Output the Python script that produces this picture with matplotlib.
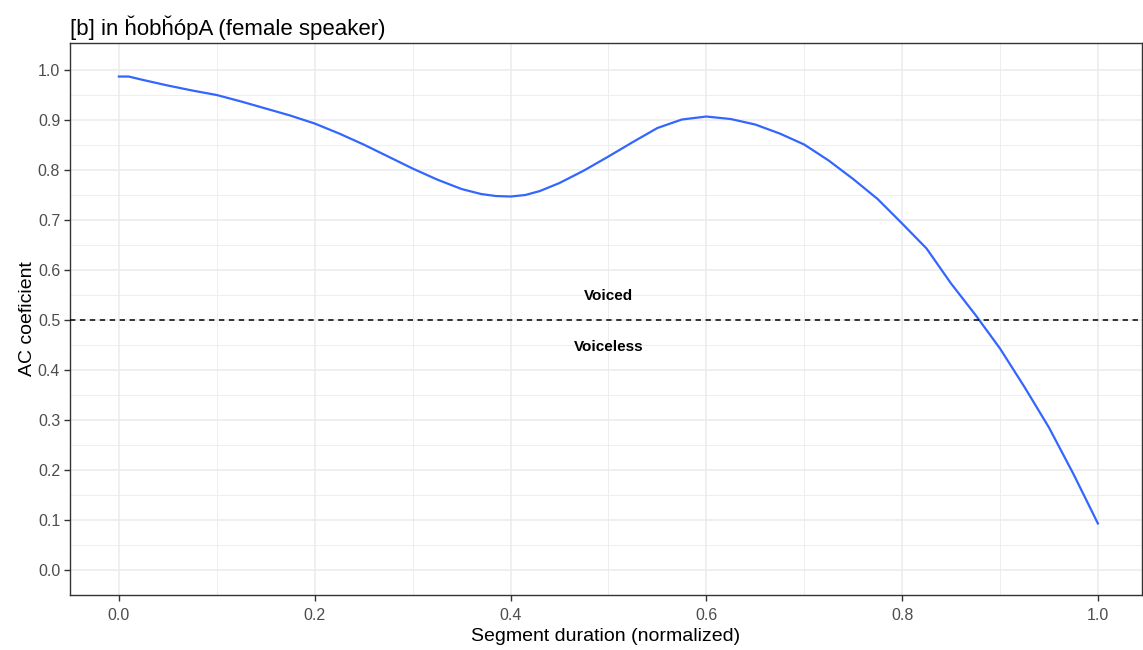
import numpy as np
import matplotlib.pyplot as plt

plt.rcParams['font.family'] = ['Liberation Sans', 'DejaVu Sans']

# smoothed AC coefficient along the normalized segment
seg_x = [0.0, 0.01, 0.025, 0.05, 0.075, 0.1, 0.125, 0.15, 0.175, 0.2, 0.225, 0.25,
         0.275, 0.3, 0.325, 0.35, 0.37, 0.385, 0.4, 0.415, 0.43, 0.45, 0.475, 0.5,
         0.525, 0.55, 0.575, 0.6, 0.625, 0.65, 0.675, 0.7, 0.725, 0.75,
         0.775, 0.8, 0.825, 0.85, 0.875, 0.9, 0.925, 0.95, 0.975, 1.0]
ac_coef = [0.987, 0.987, 0.980, 0.969, 0.959, 0.950, 0.937, 0.923, 0.909, 0.893, 0.873, 0.851,
           0.827, 0.803, 0.781, 0.762, 0.752, 0.748, 0.747, 0.750, 0.758, 0.774, 0.799, 0.827,
           0.856, 0.884, 0.901, 0.907, 0.902, 0.891, 0.873, 0.851, 0.819, 0.782,
           0.742, 0.693, 0.643, 0.573, 0.510, 0.443, 0.366, 0.285, 0.192, 0.093]
threshold = 0.5

fig = plt.figure(figsize=(11.43, 6.5), dpi=100)
ax = fig.add_axes([0.0612, 0.0846, 0.9379, 0.8492])

ax.plot(seg_x, ac_coef, color='#3366FF', lw=1.6, zorder=3)
ax.axhline(threshold, color='black', lw=1.1, ls=(0, (3.5, 3)), zorder=3)

ax.text(0.5, 0.548, 'Voiced', ha='center', va='center', fontsize=11, fontweight='bold')
ax.text(0.5, 0.446, 'Voiceless', ha='center', va='center', fontsize=11, fontweight='bold')

ax.set_xlim(-0.05, 1.045)
ax.set_ylim(-0.05, 1.054)
ax.set_xticks(np.arange(0, 1.01, 0.2))
ax.set_xticks(np.arange(0.1, 1.0, 0.2), minor=True)
ax.set_yticks(np.arange(0, 1.01, 0.1))
ax.set_yticks(np.arange(0.05, 1.05, 0.1), minor=True)
ax.set_xticklabels(['%.1f' % v for v in np.arange(0, 1.01, 0.2)])
ax.set_yticklabels(['%.1f' % v for v in np.arange(0, 1.01, 0.1)])

ax.grid(which='major', color='#EBEBEB', lw=1.1)
ax.grid(which='minor', color='#EBEBEB', lw=0.6)
ax.set_axisbelow(True)
ax.tick_params(which='major', length=4, width=1, color='#333333',
               labelcolor='#4D4D4D', labelsize=11.5)
ax.tick_params(axis='x', which='major', pad=5)
ax.tick_params(axis='y', which='major', pad=3)
ax.tick_params(which='minor', length=0)
for s in ax.spines.values():
    s.set_color('#333333')
    s.set_linewidth(1)

ax.set_xlabel('Segment duration (normalized)', fontsize=14, labelpad=4)
ax.set_ylabel('AC coeficient', fontsize=14, labelpad=1)
ax.set_title('[b] in ȟobȟópA (female speaker)', fontsize=16, loc='left', x=0.0, pad=6)

fig.savefig('out.png', dpi=100)
